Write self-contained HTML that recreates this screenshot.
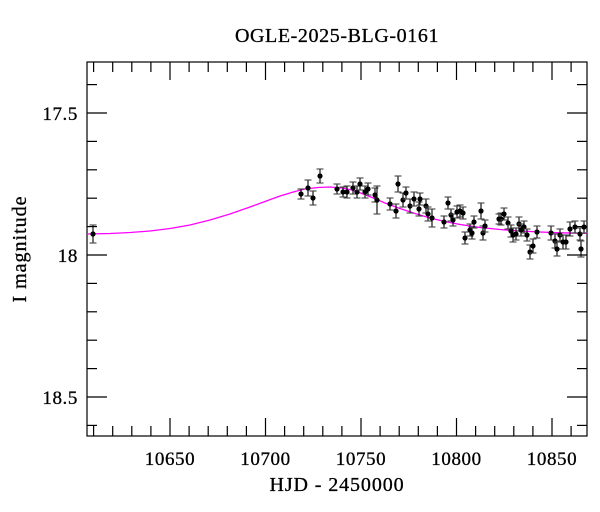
<!DOCTYPE html>
<html><head><meta charset="utf-8"><style>
html,body{margin:0;padding:0;background:#fff;}
svg{display:block;font-family:"Liberation Serif",serif;}
</style></head><body>
<svg id="s" width="600" height="512" viewBox="0 0 600 512" xmlns="http://www.w3.org/2000/svg">
<rect width="600" height="512" fill="#fff"/>
<text x="337" y="42" font-size="20" letter-spacing="0.6" text-anchor="middle" stroke="#000" stroke-width="0.3">OGLE-2025-BLG-0161</text>
<text x="337" y="491" font-size="20" letter-spacing="0.9" text-anchor="middle" stroke="#000" stroke-width="0.3">HJD - 2450000</text>
<text x="0" y="0" font-size="20" letter-spacing="1" text-anchor="middle" stroke="#000" stroke-width="0.3" transform="translate(26,249) rotate(-90)">I magnitude</text>
<g id="ax" stroke="#000" stroke-width="1.2" fill="none"></g>
<g id="lab" font-size="19" letter-spacing="0.6" fill="#000" stroke="#000" stroke-width="0.3"></g>
<polyline fill="none" stroke="#ff00ff" stroke-width="1.3" points="87,234 110,233.5 130,232.5 150,231 170,228.5 190,225 210,220 230,214 250,207 265,201.5 280,196 295,191.5 305,189 318,187.5 330,187 342,188 352,190 362,193.5 372,197.5 385,203 400,208.5 415,213.5 430,218 445,221.5 460,224.5 480,227.5 500,229.5 520,231 540,232 560,232.8 587,233.3"/>
<g id="pts"></g>
</svg>
<script>
var ns="http://www.w3.org/2000/svg";
function el(p,t,a){var e=document.createElementNS(ns,t);for(var k in a)e.setAttribute(k,a[k]);p.appendChild(e);return e;}
var ax=document.getElementById('ax'),lab=document.getElementById('lab'),pts=document.getElementById('pts');
var L=87,R=587,T=62,B=436;
el(ax,'rect',{x:L,y:T,width:R-L,height:B-T});
function X(d){return 170+(d-10650)*1.91;}
function Y(m){return 113+(m-17.5)*284;}
for(var d=10610;d<=10860;d+=10){var x=X(d);if(x<L||x>R)continue;var maj=d%50==0,l=maj?18:10;
 el(ax,'line',{x1:x,y1:B,x2:x,y2:B-l});el(ax,'line',{x1:x,y1:T,x2:x,y2:T+l});
 if(maj){var t=el(lab,'text',{x:x,y:465,'text-anchor':'middle'});t.textContent=d;}}
for(var i=-1;i<=14;i++){var m=17.4+i*0.1;m=Math.round(m*10)/10;var y=Y(m);if(y<T||y>B)continue;var maj=Math.abs(m*2-Math.round(m*2))<1e-6,l=maj?20:10;
 el(ax,'line',{x1:L,y1:y,x2:L+l,y2:y});el(ax,'line',{x1:R,y1:y,x2:R-l,y2:y});
 if(maj){var t=el(lab,'text',{x:78,y:y+7,'text-anchor':'end'});t.textContent=(m==18?'18':m.toFixed(1));}}
var D=[[93,234,9],[301,194,5],[308,188,8],[313,198,7],[320,176,7],[337,189,5],[343,192,5],[347,192,6],[353,188,6],[357,192,6],[360,184,6],[365,192,6],[368,189,6],[375,195,7],[377,200,14],[390,204,6],[396,211,7],[398,184,8],[403,200,7],[406,193,6],[410,206,7],[414,199,7],[419,209,7],[420,199,6],[426,206,7],[428,214,7],[432,218,9],[444,222,6],[448,203,6],[451,215,6],[453,220,6],[457,212,6],[460,211,6],[463,213,6],[465,238,6],[470,230,6],[472,233,6],[474,222,6],[481,211,8],[483,233,7],[485,226,6],[499,219,5],[501,219,6],[504,214,6],[508,223,6],[511,231,6],[513,235,7],[516,234,6],[519,224,7],[521,230,6],[524,227,6],[527,235,6],[530,252,7],[533,246,7],[537,232,6],[551,233,7],[555,241,7],[557,249,7],[560,235,6],[563,242,7],[566,242,7],[570,229,7],[575,227,6],[580,234,6],[581,249,8],[584,227,6]];
D.forEach(function(p){var x=p[0],y=p[1],e=p[2];
 el(pts,'line',{x1:x,y1:y-e,x2:x,y2:y+e,stroke:'#000','stroke-width':1.1});
 el(pts,'line',{x1:x-3.5,y1:y-e,x2:x+3.5,y2:y-e,stroke:'#444','stroke-width':1.1});
 el(pts,'line',{x1:x-3.5,y1:y+e,x2:x+3.5,y2:y+e,stroke:'#444','stroke-width':1.1});
 el(pts,'circle',{cx:x,cy:y,r:2.6,fill:'#000'});});
</script>
</body></html>
